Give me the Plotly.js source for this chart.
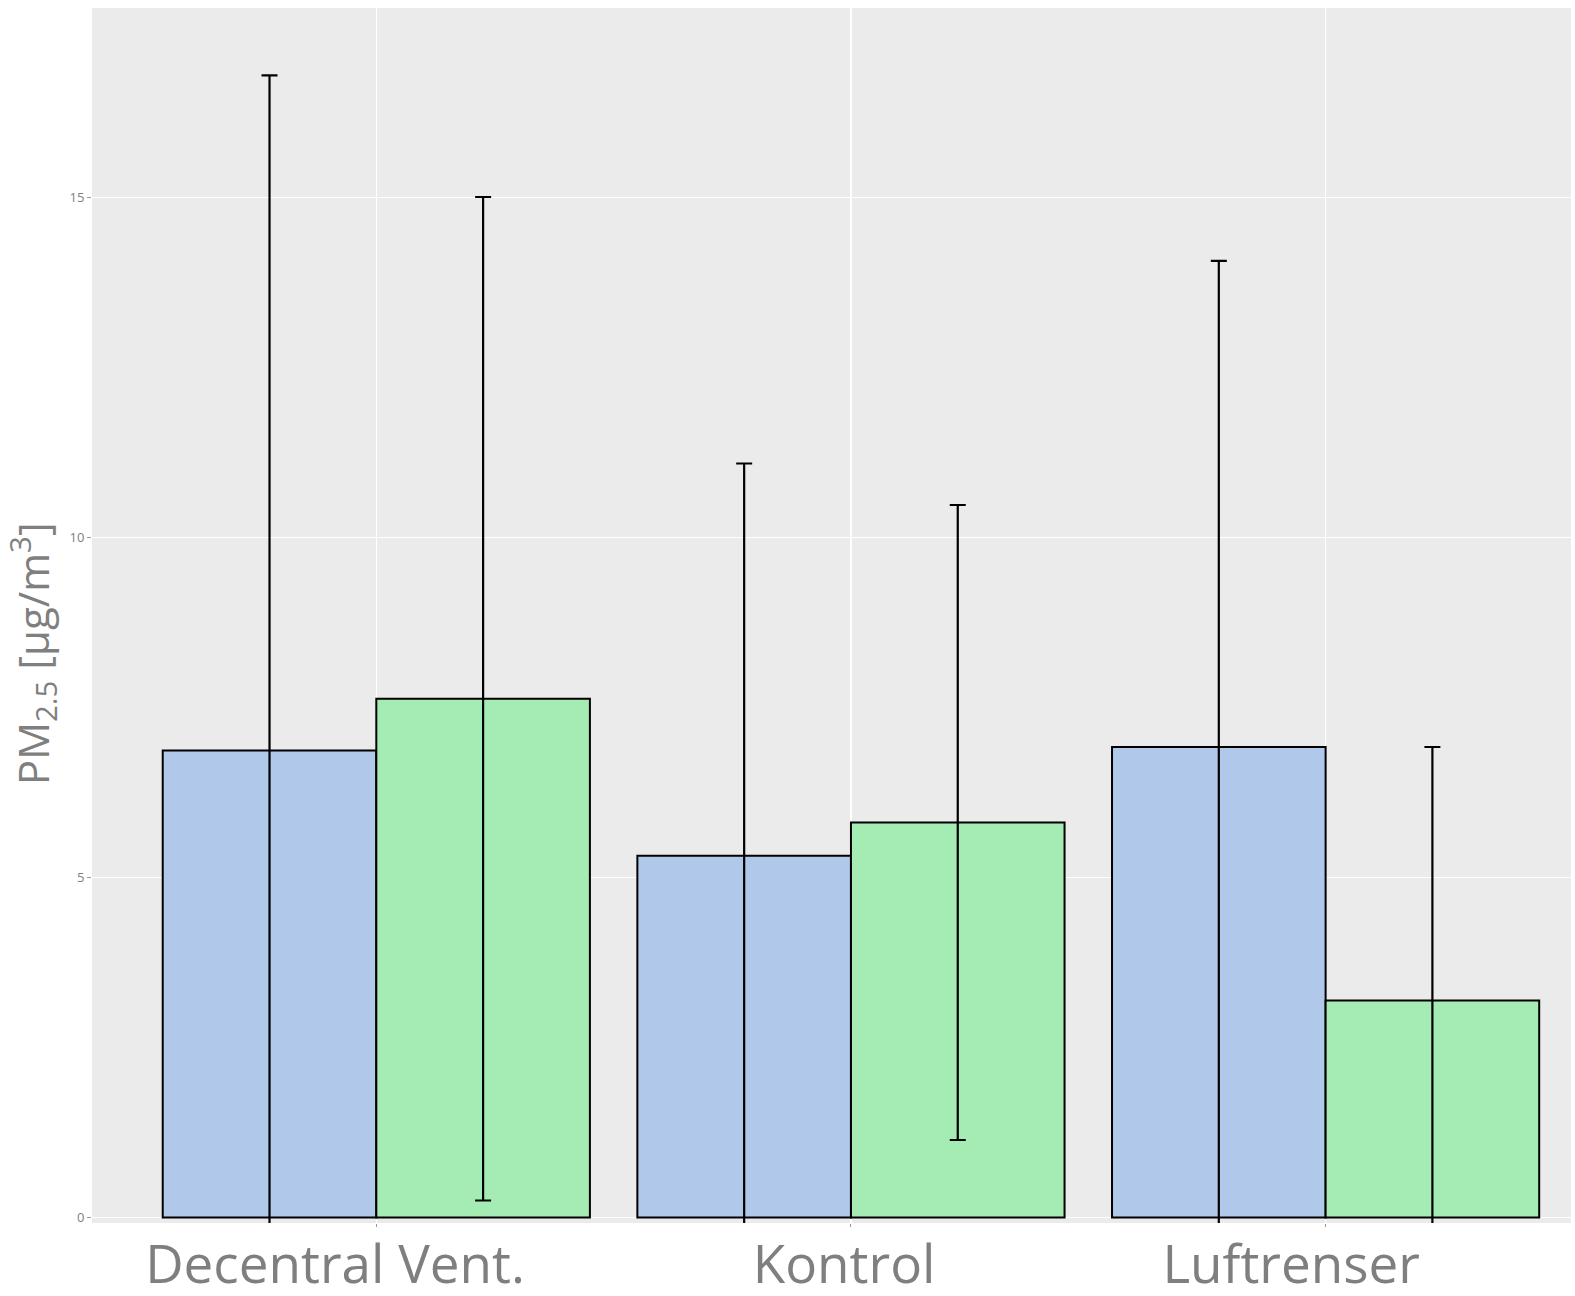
<!DOCTYPE html>
<html>
<head>
<meta charset="utf-8">
<script src="https://cdn.plot.ly/plotly-3.0.1.min.js"></script>
<style>
  html, body { margin: 0; padding: 0; background: #ffffff; overflow: hidden; }
  #chart { width: 1575px; height: 1296px; }
</style>
</head>
<body>
<div id="chart"></div>
<script>
// ---- data ----
const categories = ["Decentral Vent.", "Kontrol", "Luftrenser"];
const seriesBlue = [6.87, 5.32, 6.92];
const errorBlue = [9.93, 5.77, 7.15];
const seriesGreen = [7.63, 5.81, 3.19];
const errorGreen = [7.38, 4.67, 3.73];
const yTickVals = [0, 5, 10, 15];
const yTickText = ["0", "5", "10", "15"];
const yTitle = "PM<sub>2.5</sub> [µg/m<sup>3</sup>]";

// trailing non-breaking spaces (as in the original labels)
const labelPad = [6, 1, 5];
const tickText = categories.map((c, i) => c + "\u00a0".repeat(labelPad[i]));

const barLine = { color: "#000000", width: 2 };
const errStyle = { type: "data", symmetric: true, color: "#000000", thickness: 2.2, width: 8 };

const traces = [
  {
    type: "bar",
    x: categories,
    y: seriesBlue,
    error_y: Object.assign({ array: errorBlue }, errStyle),
    marker: { color: "#B0C9EA", line: barLine },
    showlegend: false,
    hoverinfo: "x+y"
  },
  {
    type: "bar",
    x: categories,
    y: seriesGreen,
    error_y: Object.assign({ array: errorGreen }, errStyle),
    marker: { color: "#A4ECB4", line: barLine },
    showlegend: false,
    hoverinfo: "x+y"
  }
];

const layout = {
  width: 1575,
  height: 1296,
  margin: { l: 92, r: 4, t: 8, b: 73, pad: 0 },
  paper_bgcolor: "#FFFFFF",
  plot_bgcolor: "#EBEBEB",
  font: { family: "'Open Sans', 'DejaVu Sans', sans-serif", color: "#7F7F7F" },
  barmode: "group",
  bargap: 0.1,
  bargroupgap: 0,
  showlegend: false,
  xaxis: {
    type: "category",
    range: [-0.599, 2.517],
    tickmode: "array",
    tickvals: categories,
    ticktext: tickText,
    tickfont: { size: 53, color: "#7F7F7F" },
    ticks: "outside",
    ticklen: 3,
    tickwidth: 1,
    tickcolor: "#999999",
    ticklabelstandoff: -8,
    showgrid: true,
    gridcolor: "#FFFFFF",
    gridwidth: 1.5,
    zeroline: false,
    showline: false,
    fixedrange: true
  },
  yaxis: {
    range: [-0.081, 17.79],
    tickmode: "array",
    tickvals: yTickVals,
    ticktext: yTickText,
    tickfont: { size: 13, color: "#7F7F7F" },
    ticks: "outside",
    ticklen: 4,
    tickwidth: 1,
    tickcolor: "#999999",
    showgrid: true,
    gridcolor: "#FFFFFF",
    gridwidth: 1.5,
    zeroline: false,
    showline: false,
    title: {
      text: yTitle + "&nbsp;".repeat(7),
      font: { size: 42, color: "#7F7F7F" },
      standoff: 7
    },
    fixedrange: true
  }
};

Plotly.newPlot("chart", traces, layout, { displayModeBar: false, staticPlot: true });
</script>
</body>
</html>
